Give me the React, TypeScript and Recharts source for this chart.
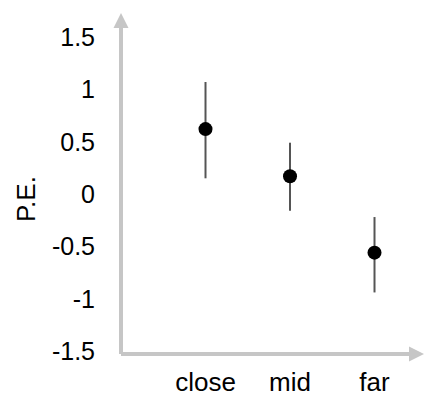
import { ScatterChart, Scatter, XAxis, YAxis, ErrorBar } from "recharts";

const categories = ["close", "mid", "far"];
const means = [0.62, 0.17, -0.56];
const lowers = [0.15, -0.16, -0.94];
const uppers = [1.07, 0.49, -0.22];
const yTicks = [-1.5, -1, -0.5, 0, 0.5, 1, 1.5];

const data = categories.map((name, i) => ({
  x: i + 1,
  name,
  y: means[i],
  err: [means[i] - lowers[i], uppers[i] - means[i]],
}));

const axisGray = "#c6c6c6";
const font = "'Liberation Sans', Arial, sans-serif";

const App = () => {
  return (
    <div style={{ position: "absolute", left: 0, top: 0, background: "#fff" }}>
      <ScatterChart
        width={436}
        height={404}
        margin={{ top: 27, right: 26, bottom: 0, left: 0 }}
      >
        <defs>
          <marker
            id="arrow"
            markerUnits="userSpaceOnUse"
            markerWidth={16}
            markerHeight={16}
            viewBox="0 0 16 16"
            refX={1}
            refY={8}
            orient="auto-start-reverse"
          >
            <path d="M0,0.5 L15,8 L0,15.5 z" fill={axisGray} />
          </marker>
        </defs>
        <XAxis
          type="number"
          dataKey="x"
          domain={[0, 3.42]}
          ticks={[1, 2, 3]}
          allowDataOverflow
          tickFormatter={(v: number) => categories[v - 1]}
          height={50}
          tickLine={false}
          tickMargin={13}
          axisLine={{ stroke: axisGray, strokeWidth: 4, markerEnd: "url(#arrow)" }}
          tick={{ fill: "#000", fontSize: 26, fontFamily: font }}
        />
        <YAxis
          type="number"
          dataKey="y"
          domain={[-1.528, 1.595]}
          ticks={yTicks}
          allowDataOverflow
          width={121}
          tickLine={false}
          tickMargin={20}
          axisLine={{ stroke: axisGray, strokeWidth: 4, markerStart: "url(#arrow)" }}
          tick={{ fill: "#000", fontSize: 25, fontFamily: font }}
        />
        <text
          x={26}
          y={199}
          transform="rotate(-90, 26, 199)"
          textAnchor="middle"
          dominantBaseline="central"
          fontSize={26}
          fontFamily={font}
          fill="#000"
        >
          P.E.
        </text>
        <Scatter
          data={data}
          fill="#000"
          isAnimationActive={false}
          shape={(p: any) => <circle cx={p.cx} cy={p.cy} r={7} fill="#000" />}
        >
          <ErrorBar
            dataKey="err"
            direction="y"
            width={0}
            stroke="#555"
            strokeWidth={2}
            isAnimationActive={false}
          />
        </Scatter>
      </ScatterChart>
    </div>
  );
};

export default App;
